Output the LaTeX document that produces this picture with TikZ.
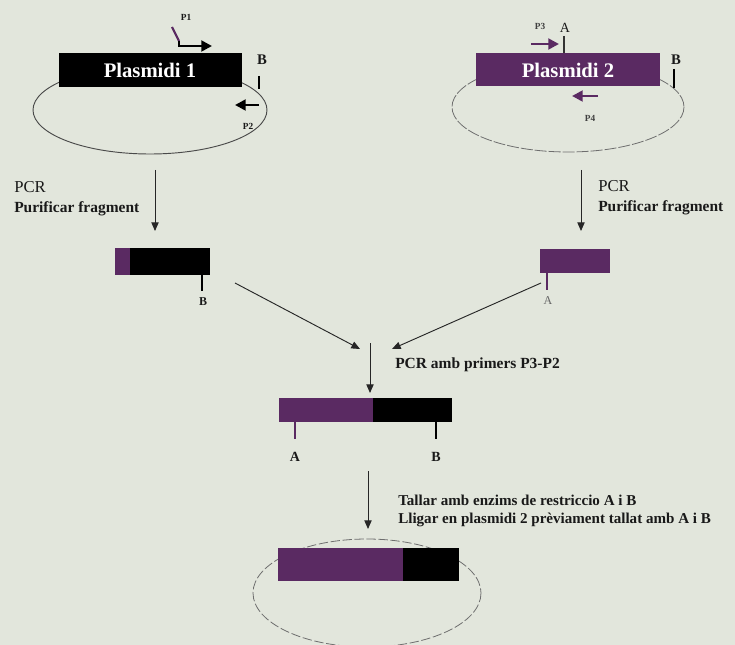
\documentclass[tikz,border=0pt]{standalone}
\usepackage{fontspec}
\setmainfont{Liberation Serif}
\usetikzlibrary{arrows.meta}
\definecolor{bg}{HTML}{E2E6DC}
\definecolor{plum}{HTML}{5A2A62}
\definecolor{ring}{HTML}{4A4A4A}
\definecolor{ringlight}{HTML}{6E6E6E}
\tikzset{
  flow/.style={-{Triangle[length=6.5pt,width=5.5pt]}, line width=0.7pt, black!85},
  primer/.style={-{Triangle[length=8pt,width=8pt]}, line width=2pt},
  tick/.style={line width=#1},
  boxtext/.style={text=white, font=\bfseries\fontsize{15.5}{18}\selectfont, inner sep=0pt},
  lab/.style={font=\bfseries\fontsize{#1}{#1}\selectfont, inner sep=0pt, text=black!90},
  note/.style={anchor=west, inner sep=0pt, font=\bfseries\fontsize{11.6}{13}\selectfont, text=black!90},
  notereg/.style={anchor=west, inner sep=0pt, font=\fontsize{12.5}{14}\selectfont, text=black!90},
}
\begin{document}
\begin{tikzpicture}[x=0.75pt,y=-0.75pt]
\fill[bg] (0,0) rectangle (735,645);
\useasboundingbox (0,0) rectangle (735,645);

% ---- plasmid rings
\draw[ring, line width=0.7pt] (150,110) ellipse [x radius=117, y radius=44];
\draw[ringlight, line width=0.6pt, dash pattern=on 9pt off 1.5pt] (568,107) ellipse [x radius=116, y radius=45];
\draw[ringlight, line width=0.6pt, dash pattern=on 7pt off 2pt] (367,593) ellipse [x radius=114, y radius=54];

% ---- Plasmidi 1
\fill[black] (59,53) rectangle (242,87);
\node[boxtext] (pl1) at (150,70) {Plasmidi 1};
\coordinate (p1a) at (172,27);
\coordinate (p1b) at (179,41);
\coordinate (p1c) at (179,46);
\coordinate (p1d) at (212,46);
\draw[plum, line width=1.6pt] (p1a) -- (p1b);
\draw[primer, black] (p1b) -- (p1c) -- (p1d);
\node[lab=7] (lP1) at (186,17) {P1};
\coordinate (p2a) at (259,105);
\coordinate (p2b) at (235,105);
\draw[primer, black] (p2a) -- (p2b);
\node[lab=7] (lP2) at (248,126) {P2};
\coordinate (b1a) at (259,76);
\coordinate (b1b) at (259,89);
\draw[tick=1.6pt, black] (b1a) -- (b1b);
\node[lab=11] (lB1) at (262,60) {B};

% ---- Plasmidi 2
\fill[plum] (476,53) rectangle (660,86);
\node[boxtext] (pl2) at (568,70) {Plasmidi 2};
\coordinate (p3a) at (531,44);
\coordinate (p3b) at (559,44);
\draw[primer, plum] (p3a) -- (p3b);
\node[lab=7, text=black!75] (lP3) at (540,26) {P3};
\coordinate (a2a) at (564,36);
\coordinate (a2b) at (564,53);
\draw[tick=0.9pt, black!80] (a2a) -- (a2b);
\node[lab=10.5, font=\fontsize{10.5}{12}\selectfont] (lA2) at (565,28) {A};
\coordinate (p4a) at (598,96);
\coordinate (p4b) at (572,96);
\draw[primer, plum] (p4a) -- (p4b);
\node[lab=7, text=black!75] (lP4) at (590,118) {P4};
\coordinate (b2a) at (674,69);
\coordinate (b2b) at (674,88);
\draw[tick=2pt, black] (b2a) -- (b2b);
\node[lab=11] (lB2) at (676,60) {B};

% ---- PCR steps
\coordinate (s1a) at (155,170);
\coordinate (s1b) at (155,231);
\draw[flow] (s1a) -- (s1b);
\node[notereg] (pcr1) at (14,187) {PCR};
\node[note] (pur1) at (14,209) {Purificar fragment};

\coordinate (s2a) at (581,170);
\coordinate (s2b) at (581,231);
\draw[flow] (s2a) -- (s2b);
\node[notereg] (pcr2) at (598,186) {PCR};
\node[note] (pur2) at (598,208) {Purificar fragment};

% ---- fragment 1
\fill[black] (115,248) rectangle (210,275);
\fill[plum] (115,248) rectangle (130,275);
\coordinate (fb1a) at (202,275);
\coordinate (fb1b) at (202,291);
\draw[tick=2pt, black] (fb1a) -- (fb1b);
\node[lab=9] (lBf) at (203,302) {B};

% ---- fragment 2
\fill[plum] (540,249) rectangle (610,273);
\coordinate (fa2a) at (547,273);
\coordinate (fa2b) at (547,290);
\draw[tick=1.8pt, plum] (fa2a) -- (fa2b);
\node[lab=9, font=\fontsize{9}{10}\selectfont, text=black!60] (lAf) at (548,301) {A};

% ---- joins
\coordinate (d1a) at (235,283);
\coordinate (d1b) at (360,349);
\draw[flow] (d1a) -- (d1b);
\coordinate (d2a) at (541,283);
\coordinate (d2b) at (392,349);
\draw[flow] (d2a) -- (d2b);
\coordinate (m1a) at (370,343);
\coordinate (m1b) at (370,393);
\draw[flow] (m1a) -- (m1b);
\node[note] (pcr3) at (395,365) {PCR amb primers P3-P2};

% ---- fused fragment
\fill[black] (279,398) rectangle (452,422);
\fill[plum] (279,398) rectangle (373,422);
\coordinate (ma1) at (295,422);
\coordinate (ma2) at (295,439);
\draw[tick=1.1pt, plum] (ma1) -- (ma2);
\coordinate (mb1) at (436,422);
\coordinate (mb2) at (436,439);
\draw[tick=2pt, black] (mb1) -- (mb2);
\node[lab=10.5] (lAm) at (295,457) {A};
\node[lab=10.5] (lBm) at (436,457) {B};

\coordinate (m2a) at (368,471);
\coordinate (m2b) at (368,529);
\draw[flow] (m2a) -- (m2b);
\node[note, font=\bfseries\fontsize{11.3}{13}\selectfont] (cut) at (398,500) {Tallar amb enzims de restriccio A i B};
\node[note, font=\bfseries\fontsize{11.3}{13}\selectfont] (lig) at (398,520) {Lligar en plasmidi 2 prèviament tallat amb A i B};

% ---- final plasmid
\fill[black] (278,548) rectangle (459,581);
\fill[plum] (278,548) rectangle (403,581);
\end{tikzpicture}
\end{document}
